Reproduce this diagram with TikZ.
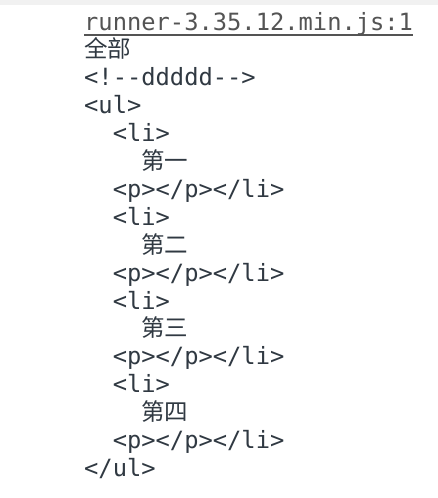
\documentclass[tikz,border=0pt]{standalone}
\usepackage{fontspec}
\setmonofont{DejaVu Sans Mono}
\newfontfamily\cjk{Noto Sans CJK SC}
\definecolor{txt}{HTML}{303942}
\definecolor{linkc}{HTML}{545454}
\definecolor{band}{HTML}{F1F1F1}
\tikzset{
  line/.style={anchor=base west, inner sep=0pt, text=txt, font=\fontsize{23.75}{28}\selectfont\ttfamily},
  cjkline/.style={anchor=base west, inner sep=0pt, text=txt, font=\fontsize{23.5}{28}\selectfont\cjk},
  linkline/.style={anchor=base west, inner sep=0pt, text=linkc, font=\fontsize{23.75}{28}\selectfont\ttfamily},
}
\begin{document}
\begin{tikzpicture}[x=1pt,y=-1pt]
\useasboundingbox (0,0) rectangle (438,498);
\fill[white] (0,0) rectangle (438,498);
\fill[band] (0,0) rectangle (438,5);
\def\lx{84}
\def\ind{14.3}
\node[linkline] (link) at (\lx,30) {runner-3.35.12.min.js:1};
\draw[linkc, line width=1.3pt] ([yshift=-5pt]link.base west) -- ([yshift=-5pt]link.base east);
\node[cjkline] (all) at (\lx,57.9) {全部};
\node[line] (cmt) at (\lx,85.8) {<!--ddddd-->};
\node[line] (ul) at (\lx,113.7) {<ul>};
\node[line] (li1) at (\lx+2*\ind,141.6) {<li>};
\node[cjkline] (t1) at (\lx+4*\ind,169.5) {第一};
\node[line] (p1) at (\lx+2*\ind,197.4) {<p></p></li>};
\node[line] (li2) at (\lx+2*\ind,225.3) {<li>};
\node[cjkline] (t2) at (\lx+4*\ind,253.2) {第二};
\node[line] (p2) at (\lx+2*\ind,281.1) {<p></p></li>};
\node[line] (li3) at (\lx+2*\ind,309.0) {<li>};
\node[cjkline] (t3) at (\lx+4*\ind,336.9) {第三};
\node[line] (p3) at (\lx+2*\ind,364.8) {<p></p></li>};
\node[line] (li4) at (\lx+2*\ind,392.7) {<li>};
\node[cjkline] (t4) at (\lx+4*\ind,420.6) {第四};
\node[line] (p4) at (\lx+2*\ind,448.5) {<p></p></li>};
\node[line] (eul) at (\lx,476.4) {</ul>};
\end{tikzpicture}
\end{document}
